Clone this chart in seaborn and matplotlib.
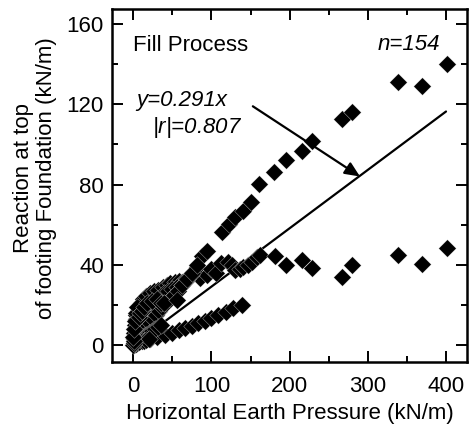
import matplotlib
matplotlib.use("Agg")
import matplotlib.pyplot as plt
import seaborn as sns
import numpy as np
import pandas as pd

# upper branch (large reaction)
upper_x = [88, 95, 113, 122, 130, 141, 150, 161, 180, 195, 216, 228, 267, 280, 338, 369, 401]
upper_y = [44.4, 47, 56.5, 60.3, 64, 67, 71.4, 80.3, 86.4, 92, 96.9, 101.8, 112.7, 116, 131.3, 129.3, 140.1]

# plateau branch around 40 kN/m
mid_x = [78, 82, 86, 94, 100, 106, 112, 121, 126, 130, 137, 141, 147, 152, 158, 162, 181, 195, 216, 228, 267, 280, 338, 369, 401]
mid_y = [37, 39, 33.5, 35, 38, 36, 41, 41.5, 40, 37.4, 37.7, 39, 40, 41.5, 44, 45, 44.4, 40, 42.5, 38.5, 34, 40, 45, 40.5, 48.2]

# lower branch (small slope)
lower_x = [22, 30, 41, 49, 58, 66, 75, 83, 92, 100, 109, 119, 128, 139]
lower_y = [3.0, 3.9, 5.0, 6.2, 7.4, 8.4, 9.6, 10.9, 12.1, 13.4, 15.0, 16.6, 18.3, 19.9]

# dense cluster near the origin
near_x = [0.5, 1, 2, 3, 4, 6, 8, 10, 13, 17, 22, 27, 32, 38, 43, 47, 53, 58, 62, 68,
          1, 2, 4, 6, 8, 10, 13, 16, 19, 22, 26, 30, 35, 40, 45, 50, 56, 62, 68, 74,
          1, 3, 5, 7, 9, 12, 15, 18, 21, 25, 29, 33, 37, 42, 47, 52, 57, 63, 69, 75, 82,
          2, 5, 8, 11, 14, 17, 20, 24, 28, 32, 36,
          1, 3, 5, 8, 11, 14, 17, 20,
          0, 0.5, 1, 0, 1, 2, 3, 5, 7, 9, 11, 14, 18, 24, 30, 35, 40, 56]
near_y = [3, 6, 10, 13, 15, 17, 19, 21, 23, 24.5, 26, 27, 27.4, 29, 30, 30.8, 31.5, 31.8, 31.6, 33,
          1, 3, 5, 7, 9, 11, 13, 15, 17, 18, 20, 22, 24, 26, 27, 28, 29, 30, 32, 35,
          0.5, 2, 3, 4.5, 5.5, 7, 8.5, 10, 11, 13, 15, 17, 19, 21, 23, 25, 27, 30, 33, 36, 40,
          1, 2, 3, 3.5, 4.5, 5, 6, 7, 8, 9, 10,
          0, 0.5, 1, 1.5, 2, 2.2, 2.5, 3,
          0, 1, 2, 4, 8, 12, 16, 19, 14, 16, 17, 19, 21, 22, 23, 21, 21, 22.4]

slope = 0.291
fit_x = [0, 400]

df = pd.DataFrame({
    "x": upper_x + mid_x + lower_x + near_x,
    "y": upper_y + mid_y + lower_y + near_y,
})
fit = pd.DataFrame({"x": fit_x, "y": [slope * v for v in fit_x]})

sns.set_style("ticks")
plt.rcParams["font.family"] = ["Liberation Sans", "DejaVu Sans"]
plt.rcParams["mathtext.fontset"] = "custom"
plt.rcParams["mathtext.it"] = "Liberation Sans:italic"
plt.rcParams["text.color"] = "black"
plt.rcParams["axes.labelcolor"] = "black"

fig = plt.figure(figsize=(4.69, 4.28), dpi=100)
ax = fig.add_axes([0.239, 0.154, 0.757, 0.825])

sns.lineplot(data=fit, x="x", y="y", color="black", lw=1.6, ax=ax, zorder=2)
sns.scatterplot(data=df, x="x", y="y", marker="D", s=80, color="black",
                edgecolor="white", linewidth=0.2, ax=ax, zorder=3)

ax.set_xlim(-27, 427)
ax.set_ylim(-8.5, 167.5)
ax.set_xticks([0, 100, 200, 300, 400])
ax.set_xticks([50, 150, 250, 350], minor=True)
ax.set_yticks([0, 40, 80, 120, 160])
ax.set_yticks([20, 60, 100, 140], minor=True)
ax.tick_params(which="both", direction="in", top=True, right=True, width=1.4,
               labelsize=16, colors="black")
ax.tick_params(which="major", length=8)
ax.tick_params(axis="x", which="major", pad=10)
ax.tick_params(axis="y", which="major", pad=6)
ax.tick_params(which="minor", length=4.5)
for sp in ax.spines.values():
    sp.set_linewidth(1.8)
    sp.set_color("black")

ax.set_xlabel("Horizontal Earth Pressure (kN/m)", fontsize=16, labelpad=4)
ax.set_ylabel("Reaction at top\nof footing Foundation (kN/m)", fontsize=16,
              linespacing=1.1)
ax.yaxis.set_label_coords(-0.155, 0.52)

ax.text(0, 149.5, "Fill Process", fontsize=16, va="center", ha="left")
ax.text(392, 150, "n=154", fontsize=16, va="center", ha="right", style="italic")
ax.text(4, 122, "y=0.291x", fontsize=16, va="center", ha="left", style="italic")
ax.text(24, 108.5, "|$r$|=0.807", fontsize=16, va="center", ha="left", style="italic")
ax.annotate("", xy=(290, 84), xytext=(153, 119),
            arrowprops=dict(arrowstyle="-|>,head_length=0.9,head_width=0.4",
                            color="black", lw=1.6, shrinkA=0, shrinkB=0))

fig.savefig("out.png", dpi=100)
